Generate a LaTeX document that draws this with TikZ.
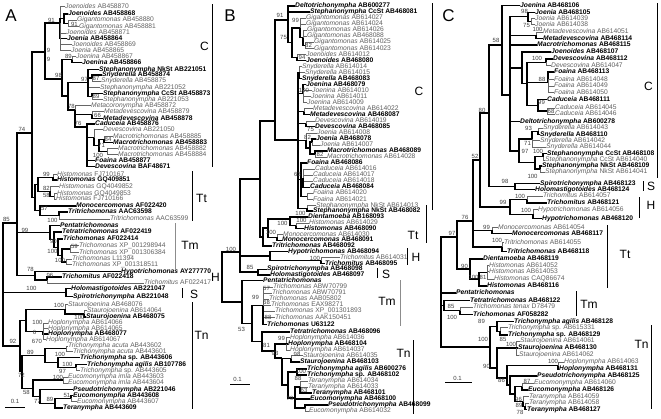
\documentclass[tikz,border=0pt]{standalone}
\usepackage{fontspec}
\setmainfont{Liberation Sans}
\tikzset{
  lf/.style={anchor=west, inner sep=0.5pt, font=\fontsize{6.7}{6.7}\selectfont, text=black!62, text height=4.8pt, text depth=1.3pt},
  lb/.style={lf, font=\fontsize{6.7}{6.7}\selectfont\bfseries, text=black},
  br/.style={line width=1.3pt},
  bt/.style={line width=0.5pt, draw=black!60},
  bs/.style={font=\fontsize{6}{6}\selectfont, text=black!75, inner sep=0pt},
  cl/.style={font=\fontsize{12}{12}\selectfont, inner sep=0pt},
  pl/.style={font=\fontsize{17}{17}\selectfont, inner sep=0pt},
  cbar/.style={line width=0.8pt},
  gbar/.style={line width=0.8pt, draw=black!45},
  sbar/.style={line width=0.7pt}
}
\newcommand\leafN[4]{\node[lf] (#1) at (#2,#3) {#4};}
\newcommand\leafB[4]{\node[lb] (#1) at (#2,#3) {#4};}
\newcommand\edN[2]{\draw[bt] (#1) |- (#2.west);}
\newcommand\edB[2]{\draw[br] (#1) |- (#2.west);}
\newcommand\edI[2]{\draw[br] (#1) |- (#2);}
\newcounter{bsc}
\newcommand\bsv[3]{\stepcounter{bsc}\node[bs] (bs\arabic{bsc}) at (#1,#2) {#3};}
\begin{document}
\begin{tikzpicture}[x=1pt,y=-1pt]
\fill[white] (0,0) rectangle (661,418);
\useasboundingbox (0,0) rectangle (661,418);
% ================= PANEL A =================
\node[pl] (pA) at (11,16) {A};
\leafN{a1}{64.5}{6.7}{\textit{Joenoides} AB458870}
\leafB{a2}{67.5}{14}{\textit{Joenoides} AB458868}
\leafN{a3}{76.5}{20}{\textit{Gigantomonas} AB458880}
\leafN{a4}{78.5}{26.5}{\textit{Gigantomonas} AB458881}
\leafN{a5}{65.5}{33}{\textit{Joenoides} AB458871}
\leafB{a6}{66.5}{38.7}{\textit{Joenia} AB458864}
\leafN{a7}{71.5}{44.5}{\textit{Joenoides} AB458869}
\leafN{a8}{70.5}{50.3}{\textit{Joenia} AB458865}
\leafN{a9}{75.5}{56.7}{\textit{Joenina} AB458867}
\leafB{a10}{81.5}{62.5}{\textit{Joenina} AB458866}
\leafB{a11}{98.5}{69.3}{\textit{Stephanonympha} NkSt AB221051}
\leafB{a12}{101.5}{75}{\textit{Snyderella} AB458874}
\leafN{a13}{100.5}{81}{\textit{Snyderella} AB458875}
\leafN{a14}{99.5}{87.3}{\textit{Stephanonympha} AB221052}
\leafB{a15}{102.5}{93.3}{\textit{Stephanonympha} CcSt AB458873}
\leafN{a16}{102.5}{99.3}{\textit{Stephanonympha} AB221053}
\leafN{a17}{90.5}{105.5}{\textit{Metacoronympha} AB458872}
\leafN{a18}{103.5}{111.3}{\textit{Metadevescovina} AB458879}
\leafB{a19}{102.5}{118.3}{\textit{Metadevescovina} AB458878}
\leafB{a20}{94.5}{124}{\textit{Caduceia} AB458876}
\leafN{a21}{102.5}{129.7}{\textit{Devescovina} AB221050}
\leafN{a22}{112.5}{136.3}{\textit{Macrotrichomonas} AB458885}
\leafB{a23}{112.5}{142.3}{\textit{Macrotrichomonas} AB458883}
\leafN{a24}{117.5}{148.3}{\textit{Macrotrichomonas} AB458882}
\leafN{a25}{117.5}{154.7}{\textit{Macrotrichomonas} AB458884}
\leafB{a26}{94.5}{160.7}{\textit{Foaina} AB458877}
\leafB{a27}{94.5}{166.7}{\textit{Devescovina} BAF48671}
\leafN{a28}{56.5}{174.7}{\textit{Histomonas} FJ710167}
\leafB{a29}{56.5}{180}{\textit{Histomonas} GQ409851}
\leafN{a30}{58.5}{186.7}{\textit{Histomonas} GQ4049852}
\leafN{a31}{56.5}{193.3}{\textit{Histomonas} GQ4049853}
\leafN{a32}{55.5}{199}{\textit{Histomonas} FJ710166}
\leafB{a33}{75.5}{206}{\textit{Monocercomonas} AF022420}
\leafB{a34}{67.5}{212}{\textit{Tritrichomonas} AAC63598}
\leafN{a35}{109.5}{219}{\textit{Tritrichomonas} AAC63599}
\leafB{a36}{59.5}{225.3}{\textit{Pentatrichomonas}}
\leafB{a37}{61.5}{232}{\textit{Tetratrichomonas} AF022419}
\leafB{a38}{62.5}{239}{\textit{Trichomonas} AF022414}
\leafN{a39}{78.5}{245.7}{\textit{Trichomonas} XP\_001298944}
\leafN{a40}{78.5}{252.3}{\textit{Trichomonas} XP\_001306384}
\leafN{a41}{71.5}{259}{\textit{Trichomonas} L11394}
\leafN{a42}{71.5}{264.7}{\textit{Trichomonas} XP\_001318511}
\leafB{a43}{120.5}{271.3}{\textit{Hypotrichomonas} AY277770}
\leafB{a44}{61.5}{277}{\textit{Trichomitus} AF022418}
\leafN{a45}{143.5}{283}{\textit{Trichomitus} AF022417}
\leafB{a46}{70.5}{288.7}{\textit{Holomastigotoides} AB221047}
\leafB{a47}{72.5}{296.3}{\textit{Spirotrichonympha} AB221048}
\leafN{a48}{67.5}{304.7}{\textit{Staurojoenina} AB468076}
\leafN{a49}{86.5}{310.7}{\textit{Staurojoenina} AB614064}
\leafB{a50}{85.5}{317}{\textit{Staurojoenina} AB468075}
\leafN{a51}{47.5}{323}{\textit{Hoplonympha} AB614066}
\leafN{a52}{47.5}{328.7}{\textit{Hoplonympha} AB614065}
\leafB{a53}{47.5}{334.1}{\textit{Hoplonympha} AB468077}
\leafN{a54}{45.5}{339.5}{\textit{Hoplonympha} AB614067}
\leafN{a55}{67.5}{345.8}{\textit{Trichonympha acuta} AB443602}
\leafN{a56}{72.5}{351.4}{\textit{Trichonympha acuta} AB443601}
\leafB{a57}{79.5}{357.7}{\textit{Trichonympha} sp. AB443606}
\leafB{a58}{86.5}{364.3}{\textit{Trichonympha agilis} AB107786}
\leafN{a59}{79.5}{370.3}{\textit{Trichonympha} sp. AB443605}
\leafN{a60}{67.5}{377}{\textit{Eucomonympha imla} AB443603}
\leafN{a61}{67.5}{382.9}{\textit{Eucomonympha imla} AB443604}
\leafB{a62}{72.5}{389.3}{\textit{Pseudotrichonympha} AB221046}
\leafB{a63}{72.5}{395.3}{\textit{Eucomonympha} AB443608}
\leafN{a64}{76.5}{401.4}{\textit{Eucomonympha} AB443607}
\leafB{a65}{62.5}{408}{\textit{Teranympha} AB443609}
\coordinate (aG) at (68,23.3);
\coordinate (aJ1) at (64,18.6);
\coordinate (aA1) at (60,23);
\coordinate (aJn) at (72,59.6);
\coordinate (aSn) at (92,78);
\coordinate (aCc) at (92,96.3);
\coordinate (aSt) at (88,82.8);
\coordinate (aMd) at (92,114.8);
\coordinate (aM1) at (104,139.3);
\coordinate (aM2) at (107,151.5);
\coordinate (aM) at (99,145.4);
\coordinate (aDv) at (94,137.5);
\coordinate (a76) at (87,127);
\coordinate (aA5) at (75,110);
\coordinate (aA4) at (68,96);
\coordinate (aA3) at (62,79);
\coordinate (aA2) at (45,52);
\coordinate (aH2) at (53,177.4);
\coordinate (aH4) at (54,196.2);
\coordinate (aH3) at (50,191.4);
\coordinate (aH1) at (38,184.4);
\coordinate (aTr) at (59,215.5);
\coordinate (aT57) at (40,210.7);
\coordinate (aTt) at (35,197.5);
\coordinate (aA11) at (32,133);
\coordinate (aTm5) at (70,249);
\coordinate (aTm6) at (66,261.9);
\coordinate (aTm4) at (62,255.4);
\coordinate (aTm3) at (58,247.2);
\coordinate (aTm2) at (54,239.6);
\coordinate (aTm1) at (50,232.5);
\coordinate (aTmit) at (47,280);
\coordinate (aH) at (35,275.7);
\coordinate (aA12) at (17,223);
\coordinate (aS) at (66,292.5);
\coordinate (aSt2) at (84,313.9);
\coordinate (aSt1) at (65,309.3);
\coordinate (aHo) at (43,331.3);
\coordinate (aTn1) at (26,320.5);
\coordinate (aTa) at (66,348.6);
\coordinate (aTag) at (76,367.3);
\coordinate (aTsp) at (58,362.5);
\coordinate (aTri) at (45,355.4);
\coordinate (aEi) at (63,380);
\coordinate (aE4) at (71,398.3);
\coordinate (aE3) at (55,403.2);
\coordinate (aE2) at (40,396.2);
\coordinate (aEuc) at (33,388.2);
\coordinate (aTn2) at (22,371.8);
\coordinate (aTn) at (20,346);
\coordinate (aR) at (3,284);
\edN{aG}{a3}\edN{aG}{a4}
\edB{aJ1}{a2}\edI{aJ1}{aG}
\edN{aA1}{a1}\edI{aA1}{aJ1}\edN{aA1}{a5}\edB{aA1}{a6}\edN{aA1}{a7}\edN{aA1}{a8}
\edN{aJn}{a9}\edB{aJn}{a10}
\edB{aSn}{a12}\edN{aSn}{a13}
\edB{aCc}{a15}\edN{aCc}{a16}
\edB{aSt}{a11}\edI{aSt}{aSn}\edN{aSt}{a14}\edI{aSt}{aCc}
\edN{aMd}{a18}\edB{aMd}{a19}
\edN{aM1}{a22}\edB{aM1}{a23}
\edN{aM2}{a24}\edN{aM2}{a25}
\edI{aM}{aM1}\edI{aM}{aM2}
\edN{aDv}{a21}\edI{aDv}{aM}
\edB{a76}{a20}\edI{a76}{aDv}\edB{a76}{a26}\edB{a76}{a27}
\edN{aA5}{a17}\edI{aA5}{aMd}\edI{aA5}{a76}
\edI{aA4}{aSt}\edI{aA4}{aA5}
\edI{aA3}{aJn}\edI{aA3}{aA4}
\edI{aA2}{aA1}\edI{aA2}{aA3}
\edN{aH2}{a28}\edB{aH2}{a29}
\edN{aH4}{a31}\edN{aH4}{a32}
\edN{aH3}{a30}\edI{aH3}{aH4}
\edI{aH1}{aH2}\edI{aH1}{aH3}
\edB{aTr}{a34}\edN{aTr}{a35}
\edB{aT57}{a33}\edI{aT57}{aTr}
\edI{aTt}{aH1}\edI{aTt}{aT57}
\edI{aA11}{aA2}\edI{aA11}{aTt}
\edN{aTm5}{a39}\edN{aTm5}{a40}
\edN{aTm6}{a41}\edN{aTm6}{a42}
\edI{aTm4}{aTm5}\edI{aTm4}{aTm6}
\edB{aTm3}{a38}\edI{aTm3}{aTm4}
\edB{aTm2}{a37}\edI{aTm2}{aTm3}
\edB{aTm1}{a36}\edI{aTm1}{aTm2}
\edB{aTmit}{a44}\edN{aTmit}{a45}
\edB{aH}{a43}\edI{aH}{aTmit}
\edI{aA12}{aA11}\edI{aA12}{aTm1}\edI{aA12}{aH}
\edB{aS}{a46}\edB{aS}{a47}
\edN{aSt2}{a49}\edB{aSt2}{a50}
\edN{aSt1}{a48}\edI{aSt1}{aSt2}
\edN{aHo}{a51}\edN{aHo}{a52}\edB{aHo}{a53}\edN{aHo}{a54}
\edI{aTn1}{aSt1}\edI{aTn1}{aHo}
\edN{aTa}{a55}\edN{aTa}{a56}
\edB{aTag}{a58}\edN{aTag}{a59}
\edB{aTsp}{a57}\edI{aTsp}{aTag}
\edI{aTri}{aTa}\edI{aTri}{aTsp}
\edN{aEi}{a60}\edN{aEi}{a61}
\edB{aE4}{a63}\edN{aE4}{a64}
\edI{aE3}{aE4}\edB{aE3}{a65}
\edB{aE2}{a62}\edI{aE2}{aE3}
\edI{aEuc}{aEi}\edI{aEuc}{aE2}
\edI{aTn2}{aTri}\edI{aTn2}{aEuc}
\edI{aTn}{aTn1}\edI{aTn}{aTn2}
\edI{aR}{aA12}\edI{aR}{aS}\edI{aR}{aTn}
\bsv{74.5}{24}{91}\bsv{51.5}{20.5}{91}\bsv{48.5}{50.5}{9}\bsv{48.5}{59.5}{9}
\bsv{68.5}{56}{89}\bsv{58.5}{75}{98}\bsv{84.5}{79.5}{97}\bsv{96}{78.5}{87}\bsv{96}{96.5}{89}
\bsv{71.5}{106.5}{78}\bsv{97.5}{115}{66}\bsv{78}{123.5}{76}\bsv{108}{139.3}{84}\bsv{101.5}{145.5}{71}
\bsv{98}{155}{100}\bsv{22}{129}{74}\bsv{46.5}{174}{99}\bsv{46.5}{188}{82}\bsv{46.5}{195}{58}
\bsv{44.5}{208}{57}\bsv{52.5}{220}{100}\bsv{6.5}{219.5}{85}\bsv{25}{230}{99}\bsv{53.5}{241.5}{90}
\bsv{52.5}{251.5}{100}\bsv{74.5}{246.5}{59}\bsv{60}{260.5}{100}\bsv{30.5}{269.5}{78}\bsv{50}{275.5}{96}
\bsv{31.5}{288.5}{100}\bsv{59}{305.5}{100}\bsv{79.5}{317}{100}\bsv{37.5}{322.5}{100}
\bsv{34.5}{332.5}{6}\bsv{37}{341.5}{670}\bsv{13}{341.5}{92}\bsv{30.5}{352}{89}\bsv{60}{354.8}{100}
\bsv{67.5}{364}{100}\bsv{62.5}{371.5}{97}\bsv{21.5}{375.5}{72}\bsv{58}{377.5}{100}\bsv{26.5}{392}{58}
\bsv{37.5}{401.5}{77}\bsv{50}{399.5}{89}\bsv{67}{395}{51}
\node[bs] (sA) at (15,401.5) {0.1};
\draw[sbar] (5,407) -- (25,407);
\draw[cbar] (212,4) -- (212,167); \node[cl] (lAC) at (204.5,46.5) {C};
\draw[cbar] (192,171) -- (192,221); \node[cl] (lATt) at (201.5,198) {Tt};
\draw[gbar] (175,223) -- (175,270); \node[cl] (lATm) at (190,245) {Tm};
\draw[cbar] (221,255) -- (221,286); \node[cl] (lAH) at (215.5,277.5) {H};
\draw[cbar] (182,288) -- (182,298); \node[cl] (lAS) at (194,294) {S};
\draw[cbar] (192,302) -- (192,409); \node[cl] (lATn) at (201.5,335) {Tn};
% ================= PANEL B =================
\node[pl] (pB) at (230,16) {B};
\leafB{b1}{294.5}{6}{\textit{Deltotrichonympha} AB600277}
\leafB{b2}{309.5}{12}{\textit{Stephanonympha} CcSt AB468081}
\leafN{b3}{305.5}{18.1}{\textit{Gigantomonas} AB614027}
\leafN{b4}{305.5}{24.1}{\textit{Gigantomonas} AB614024}
\leafN{b5}{306.5}{30.2}{\textit{Gigantomonas} AB614026}
\leafN{b6}{306.5}{36.2}{\textit{Gigantomonas} AB468088}
\leafN{b7}{313.5}{42.2}{\textit{Gigantomonas} AB614025}
\leafN{b8}{313.5}{48.3}{\textit{Gigantomonas} AB614023}
\leafN{b9}{305.5}{54.3}{\textit{Joenoides} AB614012}
\leafB{b10}{305.5}{60.4}{\textit{Joenoides} AB468080}
\leafN{b11}{301.5}{66.4}{\textit{Snyderella} AB614014}
\leafN{b12}{304.5}{72.4}{\textit{Snyderella} AB614015}
\leafB{b13}{301.5}{78.5}{\textit{Snyderella} AB468083}
\leafB{b14}{305.5}{84.5}{\textit{Joenina} AB468079}
\leafN{b15}{311.5}{90.6}{\textit{Joenina} AB614010}
\leafN{b16}{310.5}{96.6}{\textit{Joenina} AB614011}
\leafN{b17}{306.5}{102.6}{\textit{Joenina} AB614009}
\leafN{b18}{312.5}{108.7}{\textit{Metadevescovina} AB614022}
\leafB{b19}{309.5}{114.7}{\textit{Metadevescovina} AB468087}
\leafN{b20}{314.5}{120.8}{\textit{Devescovina} AB614019}
\leafB{b21}{314.5}{126.8}{\textit{Devescovina} AB468085}
\leafN{b22}{316.5}{132.8}{\textit{Joenia} AB614008}
\leafB{b23}{315.5}{138.9}{\textit{Joenia} AB468078}
\leafN{b24}{319.5}{144.9}{\textit{Joenia} AB614007}
\leafB{b25}{326.5}{151}{\textit{Macrotrichomonas} AB468089}
\leafN{b26}{326.5}{157}{\textit{Macrotrichomonas} AB614028}
\leafB{b27}{306.5}{163}{\textit{Foaina} AB468086}
\leafN{b28}{314.5}{169.1}{\textit{Caduceia} AB614016}
\leafN{b29}{312.5}{175.1}{\textit{Caduceia} AB614017}
\leafN{b30}{312.5}{181.2}{\textit{Caduceia} AB614018}
\leafB{b31}{309.5}{187.2}{\textit{Caduceia} AB468084}
\leafN{b32}{312.5}{193.2}{\textit{Foaina} AB614020}
\leafN{b33}{312.5}{199.3}{\textit{Foaina} AB614021}
\leafN{b34}{315.5}{205.3}{\textit{Stephanonympha} NkSt AB614013}
\leafB{b35}{312.5}{211}{\textit{Stephanonympha} NkSt AB468082}
\leafB{b36}{307.5}{217}{\textit{Dientamoeba} AB168093}
\leafN{b37}{308.5}{222.8}{\textit{Histomonas} AB614029}
\leafB{b38}{303.5}{228.6}{\textit{Histomonas} AB468090}
\leafN{b39}{282.5}{234.4}{\textit{Monocercomonas} AB614030}
\leafB{b40}{281.5}{240.2}{\textit{Monocercomonas} AB468091}
\leafB{b41}{271.5}{246}{\textit{Tritrichomonas} AB468092}
\leafB{b42}{287.5}{251.8}{\textit{Hypotrichomonas} AB468094}
\leafN{b43}{339.5}{257.6}{\textit{Trichomitus} AB614031}
\leafB{b44}{324.5}{263.4}{\textit{Trichomitus} AB468095}
\leafB{b45}{266.5}{269.2}{\textit{Spirotrichonympha} AB468098}
\leafB{b46}{269.5}{275}{\textit{Holomastigotoides} AB468097}
\leafB{b47}{262.5}{280.8}{\textit{Pentatrichomonas}}
\leafN{b48}{272.5}{287}{\textit{Trichomonas} ABW70799}
\leafN{b49}{271.5}{293}{\textit{Trichomonas} ABW70791}
\leafN{b50}{268.5}{299}{\textit{Trichomonas} AAB05802}
\leafN{b51}{270.5}{305}{\textit{Trichomonas} EAX98271}
\leafN{b52}{274.5}{311}{\textit{Trichomonas} XP\_001301893}
\leafN{b53}{274.5}{317.3}{\textit{Trichomonas} AAK150451}
\leafB{b54}{266.5}{324.3}{\textit{Trichomonas} U63122}
\leafB{b55}{289.5}{332}{\textit{Tetratrichomonas} AB468096}
\leafN{b56}{289.5}{337.7}{\textit{Hoplonympha} AB614036}
\leafB{b57}{287.5}{344}{\textit{Hoplonympha} AB468104}
\leafN{b58}{289.5}{350}{\textit{Hoplonympha} AB614037}
\leafN{b59}{302.5}{355.5}{\textit{Staurojoenina} AB614035}
\leafB{b60}{299.5}{362}{\textit{Staurojoenina} AB468103}
\leafB{b61}{306.5}{369}{\textit{Trichonympha agilis} AB600276}
\leafB{b62}{306.5}{375}{\textit{Trichonympha} sp. AB468102}
\leafN{b63}{307.5}{381}{\textit{Teranympha} AB614034}
\leafN{b64}{307.5}{387}{\textit{Teranympha} AB614033}
\leafB{b65}{311.5}{393}{\textit{Teranympha} AB468101}
\leafB{b66}{309.5}{399}{\textit{Eucomonympha} AB468100}
\leafB{b67}{327.5}{405}{\textit{Pseudotrichonympha} AB468099}
\leafN{b68}{308.5}{411}{\textit{Eucomonympha} AB614032}
\coordinate (bG3) at (305,45.3);
\coordinate (bG2) at (303,37.7);
\coordinate (bG) at (300,27.9);
\coordinate (bJo) at (297,57.3);
\coordinate (bB75) at (292,42.6);
\coordinate (bB91) at (288,20);
\coordinate (bSn) at (299.5,72.4);
\coordinate (bJn) at (303,93.6);
\coordinate (bMd) at (304,111.7);
\coordinate (bDv) at (306,123.8);
\coordinate (bJe3) at (312,141.9);
\coordinate (bMa) at (315,154);
\coordinate (bJe2) at (310,148);
\coordinate (bJoe) at (306,140.4);
\coordinate (bCad) at (303,178.2);
\coordinate (bFo2) at (307,196.3);
\coordinate (bFoa) at (301,179.6);
\coordinate (bNk) at (307,208.2);
\coordinate (bBC2) at (298,140);
\coordinate (bBC) at (275,121);
\coordinate (bHi) at (296,225.7);
\coordinate (bDiHi) at (290,219);
\coordinate (bMo) at (277,237.3);
\coordinate (bTt1) at (268,228);
\coordinate (bTt) at (263,237);
\coordinate (bBCT) at (260,179);
\coordinate (bTm) at (321,260.5);
\coordinate (bHB) at (270,256);
\coordinate (bSB) at (258,272.1);
\coordinate (bBU) at (240,252);
\coordinate (bTm1) at (263,305.6);
\coordinate (bHo) at (286,343.9);
\coordinate (bSt) at (291,358.8);
\coordinate (bTr) at (297,372);
\coordinate (bTe) at (300,387);
\coordinate (bPs) at (305,408);
\coordinate (bB4) at (295,398);
\coordinate (bB3) at (288,385);
\coordinate (bB93) at (282,358);
\coordinate (bTnB) at (275,351);
\coordinate (bB53) at (262,341.5);
\coordinate (bB2) at (252,323.5);
\coordinate (bBL) at (242,302);
\coordinate (bR) at (222,277);
\edN{bG3}{b7}\edN{bG3}{b8}
\edN{bG2}{b5}\edN{bG2}{b6}\edI{bG2}{bG3}
\edN{bG}{b3}\edN{bG}{b4}\edI{bG}{bG2}
\edN{bJo}{b9}\edB{bJo}{b10}
\edI{bB75}{bG}\edI{bB75}{bJo}
\edB{bB91}{b1}\edB{bB91}{b2}\edI{bB91}{bB75}
\edN{bSn}{b11}\edN{bSn}{b12}\edB{bSn}{b13}
\edB{bJn}{b14}\edN{bJn}{b15}\edN{bJn}{b16}\edN{bJn}{b17}
\edN{bMd}{b18}\edB{bMd}{b19}
\edN{bDv}{b20}\edB{bDv}{b21}
\edB{bJe3}{b23}\edN{bJe3}{b24}
\edB{bMa}{b25}\edN{bMa}{b26}
\edI{bJe2}{bJe3}\edI{bJe2}{bMa}
\edN{bJoe}{b22}\edI{bJoe}{bJe2}
\edN{bCad}{b28}\edN{bCad}{b29}\edN{bCad}{b30}\edB{bCad}{b31}
\edN{bFo2}{b32}\edN{bFo2}{b33}
\edB{bFoa}{b27}\edI{bFoa}{bCad}\edI{bFoa}{bFo2}
\edN{bNk}{b34}\edB{bNk}{b35}
\edI{bBC2}{bSn}\edI{bBC2}{bJn}\edI{bBC2}{bMd}\edI{bBC2}{bDv}\edI{bBC2}{bJoe}\edI{bBC2}{bFoa}\edI{bBC2}{bNk}
\edI{bBC}{bB91}\edI{bBC}{bBC2}
\edN{bHi}{b37}\edB{bHi}{b38}
\edB{bDiHi}{b36}\edI{bDiHi}{bHi}
\edN{bMo}{b39}\edB{bMo}{b40}
\edI{bTt1}{bDiHi}\edI{bTt1}{bMo}
\edI{bTt}{bTt1}\edB{bTt}{b41}
\edI{bBCT}{bBC}\edI{bBCT}{bTt}
\edN{bTm}{b43}\edB{bTm}{b44}
\edB{bHB}{b42}\edI{bHB}{bTm}
\edB{bSB}{b45}\edB{bSB}{b46}
\edI{bBU}{bBCT}\edI{bBU}{bHB}\edI{bBU}{bSB}
\edN{bTm1}{b48}\edN{bTm1}{b49}\edN{bTm1}{b50}\edN{bTm1}{b51}\edN{bTm1}{b52}\edN{bTm1}{b53}\edB{bTm1}{b54}
\edN{bHo}{b56}\edB{bHo}{b57}\edN{bHo}{b58}
\edN{bSt}{b59}\edB{bSt}{b60}
\edB{bTr}{b61}\edB{bTr}{b62}
\edN{bTe}{b63}\edN{bTe}{b64}\edB{bTe}{b65}
\edB{bPs}{b67}\edN{bPs}{b68}
\edI{bB4}{bTe}\edB{bB4}{b66}\edI{bB4}{bPs}
\edI{bB3}{bTr}\edI{bB3}{bB4}
\edI{bB93}{bSt}\edI{bB93}{bB3}
\edI{bTnB}{bHo}\edI{bTnB}{bB93}
\edB{bB53}{b55}\edI{bB53}{bTnB}
\edI{bB2}{bTm1}\edI{bB2}{bB53}
\edB{bBL}{b47}\edI{bBL}{bB2}
\edI{bR}{bBU}\edI{bR}{bBL}
\bsv{280}{15.5}{91}\bsv{283.5}{37.5}{75}\bsv{295.5}{20.5}{99}\bsv{308.5}{45.5}{82}\bsv{302}{57.5}{94}
\bsv{304}{90}{100}\bsv{310.5}{129.5}{75}\bsv{307.5}{137.5}{82}\bsv{320}{154}{82}\bsv{297.5}{174.5}{63}
\bsv{300.5}{213}{100}\bsv{282.5}{223.5}{100}\bsv{301.5}{220}{100}\bsv{271}{232}{100}\bsv{315}{258}{100}
\bsv{250}{267.5}{85}\bsv{231}{249}{100}\bsv{255.5}{297}{99}\bsv{266.5}{288.5}{57}\bsv{266.5}{302.5}{68}
\bsv{268}{317}{88}\bsv{241.5}{329}{53}\bsv{266.5}{345}{81}\bsv{281.5}{338}{99}\bsv{275}{353.5}{93}
\bsv{297}{354.5}{98}\bsv{301}{371}{100}\bsv{298}{378.5}{88}\bsv{304}{390.5}{63}\bsv{290}{398}{79}
\node[bs] (sB) at (237.5,379.5) {0.1};
\draw[sbar] (230,384) -- (250,384);
\draw[cbar] (432,3) -- (432,210); \node[cl] (lBC) at (419,91) {C};
\draw[cbar] (426,205) -- (426,243); \node[cl] (lBTt) at (413,235) {Tt};
\draw[cbar] (407,248) -- (407,265); \node[cl] (lBH) at (416,257) {H};
\draw[cbar] (377,268) -- (377,278); \node[cl] (lBS) at (386,274) {S};
\draw[gbar] (400,280) -- (400,326); \node[cl] (lBTm) at (387,301) {Tm};
\draw[cbar] (413,340) -- (413,414); \node[cl] (lBTn) at (403.5,353.5) {Tn};
% ================= PANEL C =================
\node[pl] (pC) at (448.5,16) {C};
\leafB{c1}{519.5}{5.3}{\textit{Joenina} AB468106}
\leafB{c2}{534.5}{12.3}{\textit{Joenia} AB468105}
\leafN{c3}{534.5}{18.3}{\textit{Joenia} AB614039}
\leafN{c4}{534.5}{24.3}{\textit{Joenia} AB614038}
\leafN{c5}{542.5}{32}{\textit{Metadevescovina} AB614051}
\leafB{c6}{542.5}{38.7}{\textit{Metadevescovina} AB468114}
\leafB{c7}{536.5}{45}{\textit{Macrotrichomonas} AB468115}
\leafB{c8}{550.5}{52}{\textit{Joenoides} AB468107}
\leafB{c9}{552.5}{59}{\textit{Devescovina} AB468112}
\leafN{c10}{550.5}{65.7}{\textit{Devescovina} AB614047}
\leafB{c11}{553.5}{72}{\textit{Foaina} AB468113}
\leafN{c12}{553.5}{79.3}{\textit{Foaina} AB614048}
\leafN{c13}{553.5}{86}{\textit{Foaina} AB614049}
\leafN{c14}{553.5}{92.7}{\textit{Foaina} AB614050}
\leafB{c15}{546.5}{99.3}{\textit{Caduceia} AB468111}
\leafN{c16}{554.5}{108}{\textit{Caduceia} AB614045}
\leafN{c17}{554.5}{114}{\textit{Caduceia} AB614046}
\leafB{c18}{519.5}{121.3}{\textit{Deltotrichonympha} AB600278}
\leafN{c19}{542.5}{128}{\textit{Snyderella} AB614043}
\leafB{c20}{539.5}{134.3}{\textit{Snyderella} AB468110}
\leafN{c21}{539.5}{140.3}{\textit{Snyderella} AB614042}
\leafN{c22}{545.5}{147}{\textit{Snyderella} AB614044}
\leafB{c23}{546.5}{153.3}{\textit{Stephanonympha} CcSt AB468108}
\leafN{c24}{544.5}{160}{\textit{Stephanonympha} CcSt AB614040}
\leafB{c25}{541.5}{166}{\textit{Stephanonympha} NkSt AB468109}
\leafN{c26}{544.5}{172}{\textit{Stephanonympha} NkSt AB614041}
\leafB{c27}{539.5}{183.3}{\textit{Spirotrichonympha} AB468123}
\leafB{c28}{534.5}{189.3}{\textit{Holomastigotoides} AB468124}
\leafN{c29}{542.5}{196}{\textit{Trichomitus} AB614057}
\leafB{c30}{546.5}{203}{\textit{Trichomitus} AB468121}
\leafN{c31}{537.5}{209.7}{\textit{Hypotrichomonas} AB614056}
\leafB{c32}{541.5}{218.7}{\textit{Hypotrichomonas} AB468120}
\leafN{c33}{497.5}{227.3}{\textit{Monocercomonas} AB614054}
\leafB{c34}{511.5}{233.3}{\textit{Monocercomonas} AB468117}
\leafN{c35}{503.5}{242.7}{\textit{Tritrichomonas} AB614055}
\leafB{c36}{506.5}{251.3}{\textit{Tritrichomonas} AB468118}
\leafB{c37}{482.5}{259}{\textit{Dientamoeba} AB468119}
\leafN{c38}{488.5}{265.3}{\textit{Histomonas} AB614052}
\leafN{c39}{488.5}{271.7}{\textit{Histomonas} AB614053}
\leafN{c40}{493.5}{279}{\textit{Histomonas} CAQ86674}
\leafB{c41}{486.5}{286}{\textit{Histomonas} AB468116}
\leafB{c42}{455.5}{293}{\textit{Pentatrichomonas}}
\leafB{c43}{469.5}{300.3}{\textit{Tetratrichomonas} AB468122}
\leafN{c44}{472.5}{307}{\textit{Trichomonas tenax} D78479}
\leafB{c45}{472.5}{314.3}{\textit{Trichomonas} AF058282}
\leafB{c46}{513.5}{321.3}{\textit{Trichonympha agilis} AB468128}
\leafN{c47}{507.5}{327.7}{\textit{Trichonympha} sp. AB615331}
\leafB{c48}{507.5}{335}{\textit{Trichonympha} sp. AB468129}
\leafN{c49}{519.5}{341}{\textit{Staurojoenina} AB614061}
\leafB{c50}{517.5}{348}{\textit{Staurojoenina} AB468130}
\leafN{c51}{518.5}{355}{\textit{Staurojoenina} AB614062}
\leafN{c52}{563.5}{362}{\textit{Hoplonympha} AB614063}
\leafB{c53}{558.5}{369}{\textit{Hoplonympha} AB468131}
\leafB{c54}{536.5}{376}{\textit{Pseudotrichonympha} AB468125}
\leafN{c55}{533.5}{383}{\textit{Eucomonympha} AB614060}
\leafB{c56}{527.5}{390}{\textit{Eucomonympha} AB468126}
\leafN{c57}{528.5}{396.7}{\textit{Teranympha} AB614059}
\leafN{c58}{528.5}{403}{\textit{Teranympha} AB614058}
\leafB{c59}{526.5}{409.7}{\textit{Teranympha} AB468127}
\coordinate (cJo2) at (531,21.3);
\coordinate (cJo) at (528,16.8);
\coordinate (cMe) at (536,35.3);
\coordinate (cDv) at (546,62.3);
\coordinate (cFo) at (548,82.3);
\coordinate (cCa2) at (547,111);
\coordinate (cCa) at (538,105.2);
\coordinate (cDF2) at (527,83.7);
\coordinate (cDF) at (522,67.9);
\coordinate (cSn2) at (538,131.2);
\coordinate (cSn) at (532,139);
\coordinate (cCc) at (543,156.7);
\coordinate (cNk) at (540,169);
\coordinate (cSt) at (535,162.8);
\coordinate (cSS) at (519,151);
\coordinate (cCC2) at (510,95);
\coordinate (cCC) at (502,45);
\coordinate (cS) at (515,186.3);
\coordinate (cC80) at (489,113);
\coordinate (cTmit) at (527,199.5);
\coordinate (cHy) at (533,214.2);
\coordinate (cH) at (510,206.9);
\coordinate (cC52) at (480,160);
\coordinate (cMo) at (492,230.3);
\coordinate (cTr) at (502,247);
\coordinate (cC76) at (473,221);
\coordinate (cHi2) at (487,272.2);
\coordinate (cHi) at (479,279.1);
\coordinate (cTt) at (470,269);
\coordinate (cC97) at (457,237);
\coordinate (cTm3) at (460,310.7);
\coordinate (cTm2) at (444,305.5);
\coordinate (cTrC1) at (500,331.3);
\coordinate (cTrC) at (497,326.3);
\coordinate (cStC) at (516,348);
\coordinate (cHo) at (558,365.5);
\coordinate (cEuc) at (522,386.5);
\coordinate (cTe2) at (525,406.3);
\coordinate (cTe) at (523,401.5);
\coordinate (cE) at (515,394);
\coordinate (cC86b) at (510,385);
\coordinate (cC86) at (507,378);
\coordinate (cC90) at (497,368);
\coordinate (cTn) at (490,347);
\coordinate (cR) at (441,290);
\edN{cJo2}{c3}\edN{cJo2}{c4}
\edB{cJo}{c2}\edI{cJo}{cJo2}
\edN{cMe}{c5}\edB{cMe}{c6}
\edB{cDv}{c9}\edN{cDv}{c10}
\edB{cFo}{c11}\edN{cFo}{c12}\edN{cFo}{c13}\edN{cFo}{c14}
\edN{cCa2}{c16}\edN{cCa2}{c17}
\edB{cCa}{c15}\edI{cCa}{cCa2}
\edI{cDF2}{cDv}\edI{cDF2}{cFo}\edI{cDF2}{cCa}
\edB{cDF}{c8}\edI{cDF}{cDF2}
\edN{cSn2}{c19}\edB{cSn2}{c20}
\edI{cSn}{cSn2}\edN{cSn}{c21}\edN{cSn}{c22}
\edB{cCc}{c23}\edN{cCc}{c24}
\edB{cNk}{c25}\edN{cNk}{c26}
\edI{cSt}{cCc}\edI{cSt}{cNk}
\edI{cSS}{cSn}\edI{cSS}{cSt}
\edI{cCC2}{cJo}\edI{cCC2}{cMe}\edB{cCC2}{c7}\edI{cCC2}{cDF}\edB{cCC2}{c18}\edI{cCC2}{cSS}
\edB{cCC}{c1}\edI{cCC}{cCC2}
\edB{cS}{c27}\edB{cS}{c28}
\edI{cC80}{cCC}\edI{cC80}{cS}
\edN{cTmit}{c29}\edB{cTmit}{c30}
\edN{cHy}{c31}\edB{cHy}{c32}
\edI{cH}{cTmit}\edI{cH}{cHy}
\edI{cC52}{cC80}\edI{cC52}{cH}
\edN{cMo}{c33}\edB{cMo}{c34}
\edN{cTr}{c35}\edB{cTr}{c36}
\edI{cC76}{cC52}\edI{cC76}{cMo}\edI{cC76}{cTr}
\edN{cHi2}{c38}\edN{cHi2}{c39}\edN{cHi2}{c40}
\edI{cHi}{cHi2}\edB{cHi}{c41}
\edB{cTt}{c37}\edI{cTt}{cHi}
\edI{cC97}{cC76}\edI{cC97}{cTt}
\edN{cTm3}{c44}\edB{cTm3}{c45}
\edB{cTm2}{c43}\edI{cTm2}{cTm3}
\edN{cTrC1}{c47}\edB{cTrC1}{c48}
\edB{cTrC}{c46}\edI{cTrC}{cTrC1}
\edN{cStC}{c49}\edB{cStC}{c50}\edN{cStC}{c51}
\edN{cHo}{c52}\edB{cHo}{c53}
\edN{cEuc}{c55}\edB{cEuc}{c56}
\edN{cTe2}{c58}\edB{cTe2}{c59}
\edN{cTe}{c57}\edI{cTe}{cTe2}
\edI{cE}{cEuc}\edI{cE}{cTe}
\edB{cC86b}{c54}\edI{cC86b}{cE}
\edI{cC86}{cHo}\edI{cC86}{cC86b}
\edI{cC90}{cStC}\edI{cC90}{cC86}
\edI{cTn}{cTrC}\edI{cTn}{cC90}
\edI{cR}{cC97}\edB{cR}{c42}\edI{cR}{cTm2}\edI{cR}{cTn}
\bsv{524.5}{11.5}{98}\bsv{526.5}{25.5}{75}\bsv{537.5}{29.5}{100}\bsv{496}{40.5}{58}\bsv{537}{58.5}{100}
\bsv{542}{79.5}{88}\bsv{541.5}{102.5}{99}\bsv{551}{111.5}{68}\bsv{528.5}{128.5}{93}\bsv{527.5}{143.5}{71}
\bsv{538}{151}{100}\bsv{532.5}{176.5}{100}\bsv{525}{151}{97}\bsv{505}{181.5}{98}\bsv{482}{110.5}{80}
\bsv{520}{196}{100}\bsv{526}{210.5}{100}\bsv{503}{202}{99}\bsv{475}{156.5}{52}\bsv{486.5}{227.5}{99}
\bsv{497}{240.5}{100}\bsv{465}{217}{76}\bsv{464.5}{266}{90}\bsv{473.5}{277}{100}\bsv{483}{277}{81}
\bsv{452}{233}{97}\bsv{451}{306.5}{85}\bsv{452}{317.5}{100}\bsv{483}{339.5}{100}\bsv{481.5}{321}{89}
\bsv{503}{339.5}{85}\bsv{511}{344}{100}\bsv{486.5}{366}{90}\bsv{553}{361.5}{100}\bsv{501.5}{380.5}{86}
\bsv{527}{381}{87}\bsv{518.5}{399}{96}\bsv{519}{405.5}{89}\bsv{520}{412}{78}
\node[bs] (sC) at (457.5,378.5) {0.1};
\draw[sbar] (445,382) -- (472,382);
\draw[cbar] (657,3) -- (657,178); \node[cl] (lCC) at (648.5,86) {C};
\draw[cbar] (643,181) -- (643,191); \node[cl] (lCS) at (651,186.5) {S};
\draw[cbar] (639,197) -- (639,218); \node[cl] (lCH) at (651,205) {H};
\draw[cbar] (607,225) -- (607,288); \node[cl] (lCTt) at (625,254) {Tt};
\draw[cbar] (576,291) -- (576,316); \node[cl] (lCTm) at (589,304) {Tm};
\draw[cbar] (651,325) -- (651,409); \node[cl] (lCTn) at (641.5,344) {Tn};
\end{tikzpicture}
\end{document}
